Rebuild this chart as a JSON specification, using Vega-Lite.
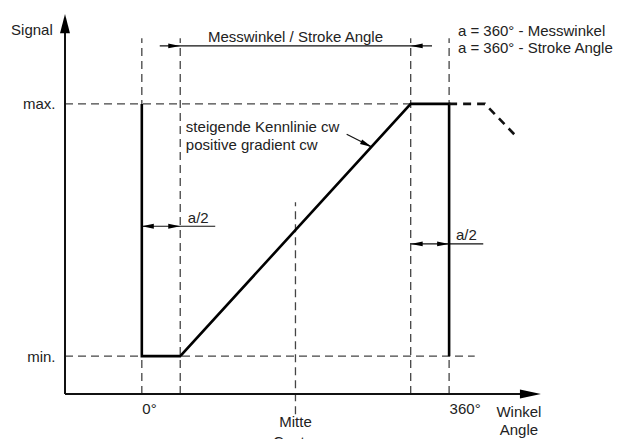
{
  "$schema": "https://vega.github.io/schema/vega-lite/v6.json",
  "autosize": {"type": "none"},
  "padding": {"left": 65, "top": 3, "right": 76, "bottom": 45},
  "width": 478,
  "height": 391,
  "background": "white",
  "config": {"view": {"stroke": null}},
  "datasets": {
    "guides": [
      {"x": -90, "y": 100, "x2": 360, "y2": 100},
      {"x": -90, "y": 0, "x2": 390, "y2": 0},
      {"x": 0, "y": -15, "x2": 0, "y2": 126},
      {"x": 45, "y": -15, "x2": 45, "y2": 126},
      {"x": 315, "y": -15, "x2": 315, "y2": 126},
      {"x": 360, "y": -15, "x2": 360, "y2": 126},
      {"x": 180, "y": -23, "x2": 180, "y2": 61}
    ],
    "dims": [
      {"x": 21, "y": 123, "x2": 340, "y2": 123},
      {"x": 0, "y": 51.5, "x2": 86, "y2": 51.5},
      {"x": 315, "y": 44.5, "x2": 400, "y2": 44.5},
      {"x": 240, "y": 88, "x2": 269.5, "y2": 82.9}
    ],
    "axes": [
      {"x": -90, "y": -15, "x2": -90, "y2": 130},
      {"x": -90, "y": -15, "x2": 460, "y2": -15}
    ],
    "curve": [
      {"x": 0, "y": 100, "o": 1},
      {"x": 0, "y": 0, "o": 2},
      {"x": 45, "y": 0, "o": 3},
      {"x": 315, "y": 100, "o": 4},
      {"x": 360, "y": 100, "o": 5},
      {"x": 360, "y": 0, "o": 6}
    ],
    "tail": [
      {"x": 360, "y": 100, "o": 1},
      {"x": 402, "y": 100, "o": 2},
      {"x": 437, "y": 87.7, "o": 3}
    ],
    "arrows": [
      {"x": 45, "y": 123, "dir": "right"},
      {"x": 315, "y": 123, "dir": "left"},
      {"x": 0, "y": 51.5, "dir": "left"},
      {"x": 45, "y": 51.5, "dir": "right"},
      {"x": 315, "y": 44.5, "dir": "left"},
      {"x": 360, "y": 44.5, "dir": "right"},
      {"x": -90, "y": 135.6, "dir": "up"},
      {"x": 467.6, "y": -15, "dir": "east"}
    ],
    "leader": [
      {"x": 269.5, "y": 82.9}
    ],
    "textLeft": [
      {"x": 370.3, "y": 126.9, "t": "a = 360° - Messwinkel"},
      {"x": 370.3, "y": 120, "t": "a = 360° - Stroke Angle"},
      {"x": 51.6, "y": 88.9, "t": "steigende Kennlinie cw"},
      {"x": 51.6, "y": 81.7, "t": "positive gradient cw"},
      {"x": 53.9, "y": 52.6, "t": "a/2"},
      {"x": 368, "y": 46.1, "t": "a/2"}
    ],
    "textCenter": [
      {"x": 180, "y": 124.5, "t": "Messwinkel / Stroke Angle"},
      {"x": 180, "y": -28.2, "t": "Mitte"},
      {"x": 180, "y": -36.1, "t": "Center"},
      {"x": 441.8, "y": -24.2, "t": "Winkel"},
      {"x": 441.8, "y": -31.4, "t": "Angle"}
    ],
    "textRight": [
      {"x": -104.3, "y": 127.3, "t": "Signal"}
    ]
  },
  "encoding": {
    "x": {
      "field": "x", "type": "quantitative",
      "scale": {"domain": [-90, 470], "nice": false, "zero": false},
      "axis": {
        "values": [0, 360],
        "labelExpr": "datum.value == 0 ? '0°' : '360°'",
        "domain": false, "ticks": false, "grid": false, "title": null,
        "labelAlign": "left", "labelDx": -2, "labelBaseline": "top", "labelPadding": 7,
        "labelFontSize": 15, "labelFont": "Liberation Sans", "labelColor": "#222"
      }
    },
    "y": {
      "field": "y", "type": "quantitative",
      "scale": {"domain": [-15, 140], "nice": false, "zero": false},
      "axis": {
        "values": [0, 100],
        "labelExpr": "datum.value == 100 ? 'max.' : 'min.'",
        "domain": false, "ticks": false, "grid": false, "title": null,
        "labelPadding": 10, "labelBaseline": "middle",
        "labelFontSize": 15, "labelFont": "Liberation Sans", "labelColor": "#222"
      }
    }
  },
  "layer": [
    {
      "data": {"name": "guides"},
      "mark": {"type": "rule", "color": "#444", "strokeWidth": 1.3, "strokeDash": [8, 5]},
      "encoding": {"x2": {"field": "x2"}, "y2": {"field": "y2"}}
    },
    {
      "data": {"name": "dims"},
      "mark": {"type": "rule", "color": "#111", "strokeWidth": 1.2},
      "encoding": {"x2": {"field": "x2"}, "y2": {"field": "y2"}}
    },
    {
      "data": {"name": "axes"},
      "mark": {"type": "rule", "color": "#111", "strokeWidth": 2},
      "encoding": {"x2": {"field": "x2"}, "y2": {"field": "y2"}}
    },
    {
      "data": {"name": "curve"},
      "mark": {"type": "line", "color": "#000", "strokeWidth": 2.6, "strokeJoin": "miter", "strokeCap": "butt"},
      "encoding": {"order": {"field": "o", "type": "quantitative"}}
    },
    {
      "data": {"name": "tail"},
      "mark": {"type": "line", "color": "#111", "strokeWidth": 2.6, "strokeDash": [8, 6]},
      "encoding": {"order": {"field": "o", "type": "quantitative"}}
    },
    {
      "data": {"name": "arrows"},
      "mark": {"type": "point", "filled": true, "color": "#000", "opacity": 1, "size": 144},
      "encoding": {
        "shape": {
          "field": "dir", "type": "nominal", "legend": null,
          "scale": {
            "domain": ["left", "right", "up", "east"],
            "range": ["M0,0L2,-0.4L2,0.4Z", "M0,0L-2,-0.4L-2,0.4Z", "M0,0L0.83,3.2L-0.83,3.2Z", "M0,0L-3.5,-0.75L-3.5,0.75Z"]
          }
        }
      }
    },
    {
      "data": {"name": "leader"},
      "mark": {"type": "point", "filled": true, "color": "#000", "opacity": 1, "size": 144, "angle": 26, "shape": "M0,0L-2,-0.4L-2,0.4Z"}
    },
    {
      "data": {"name": "textLeft"},
      "mark": {"type": "text", "align": "left", "baseline": "alphabetic", "fontSize": 15, "font": "Liberation Sans", "color": "#222"},
      "encoding": {"text": {"field": "t"}}
    },
    {
      "data": {"name": "textCenter"},
      "mark": {"type": "text", "align": "center", "baseline": "alphabetic", "fontSize": 15, "font": "Liberation Sans", "color": "#222"},
      "encoding": {"text": {"field": "t"}}
    },
    {
      "data": {"name": "textRight"},
      "mark": {"type": "text", "align": "right", "baseline": "alphabetic", "fontSize": 15, "font": "Liberation Sans", "color": "#222"},
      "encoding": {"text": {"field": "t"}}
    }
  ]
}
